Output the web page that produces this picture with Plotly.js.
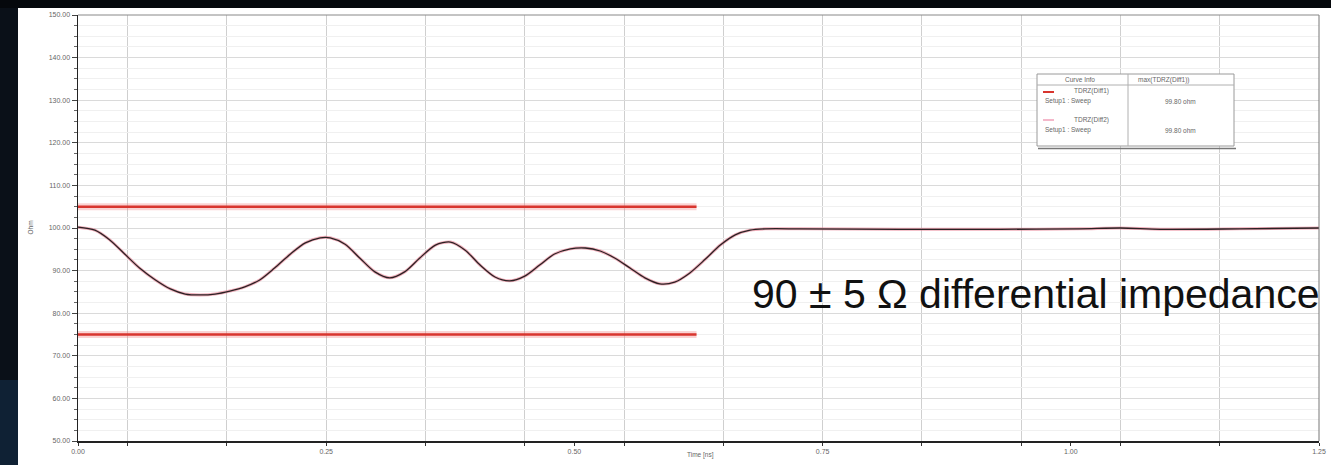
<!DOCTYPE html>
<html>
<head>
<meta charset="utf-8">
<script src="https://cdn.plot.ly/plotly-3.0.1.min.js"></script>
<style>
html,body{margin:0;padding:0;background:#ffffff;}
#chart{width:1331px;height:465px;}
</style>
</head>
<body>
<div id="chart"></div>
<script>
// ---- data ----
const timeNs = [0.000,0.017,0.032,0.047,0.062,0.078,0.093,0.108,0.123,0.138,0.153,0.168,0.183,0.198,0.214,0.229,0.244,0.254,0.269,0.284,0.299,0.314,0.329,0.344,0.360,0.375,0.390,0.405,0.420,0.435,0.450,0.465,0.480,0.496,0.511,0.526,0.541,0.556,0.571,0.586,0.601,0.616,0.632,0.647,0.662,0.677,0.692,0.727,0.828,0.929,1.009,1.050,1.090,1.170,1.250];
const zdiff1 = [100.2,99.5,97.2,93.9,90.6,87.8,85.7,84.5,84.3,84.5,85.2,86.2,87.8,90.6,93.9,96.5,97.7,97.7,96.2,92.9,89.7,88.3,89.7,92.9,96.0,96.7,94.8,91.3,88.5,87.6,88.7,91.3,93.9,95.1,95.3,94.6,92.9,90.6,88.3,86.9,87.3,89.4,92.7,96.0,98.4,99.5,99.8,99.8,99.7,99.7,99.8,100.0,99.7,99.8,100.0];
const zdiff2 = zdiff1.slice();
const limitTime = [0, 0.623];
const upperLimit = [105, 105];
const lowerLimit = [75, 75];
const xTickVals = [0, 0.25, 0.5, 0.75, 1.0, 1.25];
const xTickText = ['0.00','0.25','0.50','0.75','1.00','1.25'];
const yTickVals = [50,60,70,80,90,100,110,120,130,140,150];
const annotationText = '90 \u00b1 5 \u03a9 differential impedance';
const legendHeader = ['Curve Info', 'max(TDRZ(Diff1))'];
const legendRows = [
  {name:'TDRZ(Diff1)', setup:'Setup1 : Sweep', value:'99.80 ohm'},
  {name:'TDRZ(Diff2)', setup:'Setup1 : Sweep', value:'99.80 ohm'}
];

// ---- plot geometry (plot area pixels) ----
const W = 1331, H = 465;
const L = 78, R = 12, T = 15, B = 24;
const pw = W - L - R, ph = H - T - B;
function px(x){ return (x - L) / pw; }
function py(y){ return (H - B - y) / ph; }

const traces = [
  {x: limitTime, y: upperLimit, mode:'lines', line:{color:'rgba(240,130,130,0.35)', width:7}, hoverinfo:'skip', showlegend:false},
  {x: limitTime, y: lowerLimit, mode:'lines', line:{color:'rgba(240,130,130,0.35)', width:7}, hoverinfo:'skip', showlegend:false},
  {x: limitTime, y: upperLimit, mode:'lines', line:{color:'#d8352e', width:2.6}, showlegend:false},
  {x: limitTime, y: lowerLimit, mode:'lines', line:{color:'#d8352e', width:2.6}, showlegend:false},
  {x: timeNs, y: zdiff2, mode:'lines', line:{color:'rgba(230,120,140,0.6)', width:3, shape:'spline', smoothing:0.8}, showlegend:false},
  {x: timeNs, y: zdiff1, mode:'lines', line:{color:'#2a2224', width:1.3, shape:'spline', smoothing:0.8}, showlegend:false}
];

const shapes = [
  // dark surroundings
  {type:'rect', xref:'paper', yref:'paper', x0:px(0), x1:px(18), y0:py(H), y1:py(0), fillcolor:'#0a1018', line:{width:0}, layer:'below'},
  {type:'rect', xref:'paper', yref:'paper', x0:px(0), x1:px(W), y0:py(8), y1:py(0), fillcolor:'#05080c', line:{width:0}, layer:'below'},
  {type:'rect', xref:'paper', yref:'paper', x0:px(0), x1:px(18), y0:py(H), y1:py(380), fillcolor:'#10263c', line:{width:0}, layer:'below', opacity:0.8},
  // legend table
  {type:'rect', xref:'paper', yref:'paper', x0:px(1037), x1:px(1234), y0:py(146), y1:py(74), fillcolor:'#ffffff', line:{color:'#9a9a9a', width:1}},
  {type:'line', xref:'paper', yref:'paper', x0:px(1037), x1:px(1234), y0:py(85), y1:py(85), line:{color:'#b0b0b0', width:1}},
  {type:'line', xref:'paper', yref:'paper', x0:px(1128), x1:px(1128), y0:py(146), y1:py(74), line:{color:'#b0b0b0', width:1}},
  {type:'line', xref:'paper', yref:'paper', x0:px(1038), x1:px(1236), y0:py(148.5), y1:py(148.5), line:{color:'#777', width:1.5}},
  {type:'line', xref:'paper', yref:'paper', x0:px(1043), x1:px(1054), y0:py(92), y1:py(92), line:{color:'#d8352e', width:2}},
  {type:'line', xref:'paper', yref:'paper', x0:px(1043), x1:px(1054), y0:py(120), y1:py(120), line:{color:'#f0a0b8', width:1.5}}
];

const small = {family:'Liberation Sans, Arial', size:6.5, color:'#666'};
function lab(x, y, text, anchor){
  return {xref:'paper', yref:'paper', x:px(x), y:py(y), text:text, showarrow:false, xanchor:anchor, yanchor:'middle', font:small};
}
const annotations = [
  {xref:'paper', yref:'paper', x:px(750), y:py(294), text:annotationText, showarrow:false, xanchor:'left', yanchor:'middle', font:{family:'Liberation Sans, Arial', size:41, color:'#111'}},
  lab(1063, 80, legendHeader[0], 'left'),
  lab(1136, 80, legendHeader[1], 'left'),
  lab(1072, 91, legendRows[0].name, 'left'),
  lab(1043, 101, legendRows[0].setup, 'left'),
  lab(1163, 101, legendRows[0].value, 'left'),
  lab(1072, 120, legendRows[1].name, 'left'),
  lab(1043, 130, legendRows[1].setup, 'left'),
  lab(1163, 130, legendRows[1].value, 'left'),
  {xref:'paper', yref:'paper', x:px(700), y:py(461), text:'Time [ns]', showarrow:false, font:{family:'Liberation Sans, Arial', size:6.5, color:'#666'}},
  {xref:'paper', yref:'paper', x:px(24), y:py(228), text:'Ohm', textangle:-90, showarrow:false, font:{family:'Liberation Sans, Arial', size:6.5, color:'#666'}}
];

const layout = {
  width: W, height: H,
  margin:{l:L, r:R, t:T, b:B, pad:0},
  paper_bgcolor:'#ffffff',
  plot_bgcolor:'rgba(0,0,0,0)',
  showlegend:false,
  xaxis:{
    range:[0,1.25], tickmode:'array', tickvals:xTickVals, ticktext:xTickText,
    showgrid:false, zeroline:false,
    showline:true, linecolor:'#222', linewidth:1.5, mirror:false,
    ticks:'outside', ticklen:3, tickcolor:'#333',
    tickfont:{family:'Liberation Sans, Arial', size:7, color:'#666'},
    minor:{tick0:0.05, dtick:0.1, showgrid:true, gridcolor:'#cfcfcf', gridwidth:1, ticks:'outside', ticklen:3, tickcolor:'#333'}
  },
  yaxis:{
    range:[50,150], tickmode:'array', tickvals:yTickVals,
    tickformat:'.2f',
    showgrid:true, gridcolor:'#dadada', gridwidth:1, zeroline:false,
    showline:true, linecolor:'#222', linewidth:1.5,
    ticks:'outside', ticklen:5, tickcolor:'#444',
    tickfont:{family:'Liberation Sans, Arial', size:7, color:'#666'},
    minor:{dtick:2.5, showgrid:true, gridcolor:'#f0f0f0', gridwidth:1, ticks:'outside', ticklen:3, tickcolor:'#666'}
  },
  shapes: shapes.concat([
    {type:'line', xref:'paper', yref:'paper', x0:1, x1:1, y0:0, y1:1, line:{color:'#777', width:1}},
    {type:'line', xref:'paper', yref:'paper', x0:0, x1:1, y0:1, y1:1, line:{color:'#888', width:1}}
  ]),
  annotations: annotations
};

Plotly.newPlot('chart', traces, layout, {staticPlot:true, displayModeBar:false});
</script>
</body>
</html>
